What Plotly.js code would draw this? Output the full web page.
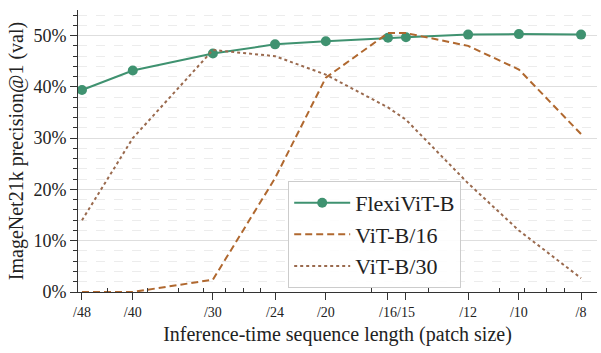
<!DOCTYPE html>
<html>
<head>
<meta charset="utf-8">
<script src="https://cdn.plot.ly/plotly-3.0.1.min.js"></script>
<style>html,body{margin:0;padding:0;background:#fff;}#chart{width:601px;height:353px;}</style>
</head>
<body>
<div id="chart"></div>
<script>
const patchSizes = [48, 40, 30, 24, 20, 16, 15, 12, 10, 8];
const tickLabels = ['/48', '/40', '/30', '/24', '/20', '/16', '/15', '/12', '/10', '/8'];
const imageSize = 240;
const flexivit = [39.4, 43.2, 46.5, 48.3, 48.9, 49.6, 49.7, 50.2, 50.3, 50.2];
const vitB16 = [0.0, 0.0, 2.4, 22.2, 41.8, 50.5, 50.5, 48.0, 43.4, 30.8];
const vitB30 = [14.0, 30.0, 47.2, 46.0, 42.4, 36.0, 33.6, 21.2, 12.0, 2.7];
const yTicks = [0, 10, 20, 30, 40, 50];
const yTickLabels = ['0%', '10%', '20%', '30%', '40%', '50%'];
const minorSeqTicks = [30, 40, 50, 60, 70, 80, 90, 200, 300, 500, 600, 700, 800];

const seqLen = patchSizes.map(p => Math.pow(imageSize / p, 2));
const font = 'Liberation Serif';

const traces = [
  {x: seqLen, y: flexivit, name: 'FlexiViT-B', mode: 'lines+markers',
   line: {color: '#3f9270', width: 2}, marker: {color: '#3f9270', size: 10}},
  {x: seqLen, y: vitB16, name: 'ViT-B/16', mode: 'lines',
   line: {color: '#b0682f', width: 2, dash: '7px,4px'}},
  {x: seqLen, y: vitB30, name: 'ViT-B/30', mode: 'lines',
   line: {color: '#9a6a4e', width: 2, dash: 'dot'}}
];

const layout = {
  width: 601, height: 353,
  margin: {l: 78, r: 4, t: 10, b: 61},
  paper_bgcolor: '#fff', plot_bgcolor: '#fff',
  font: {family: font, color: '#222', size: 16},
  showlegend: true,
  legend: {x: 0.405, y: 0.394, xanchor: 'left', yanchor: 'top',
           bgcolor: 'rgba(255,255,255,0.9)', bordercolor: '#cccccc', borderwidth: 1,
           itemwidth: 56,
           font: {family: font, size: 22, color: '#222'}, tracegroupgap: 0},
  xaxis: {
    type: 'log', range: [1.3855, 3.004],
    tickmode: 'array', tickvals: seqLen, ticktext: tickLabels, tickangle: 0,
    ticks: 'outside', ticklen: 7, tickwidth: 1, tickcolor: '#333',
    showline: true, linecolor: '#333', linewidth: 1,
    showgrid: false, zeroline: false,
    tickfont: {family: font, size: 14, color: '#222'},
    title: {text: 'Inference-time sequence length (patch size)', font: {family: font, size: 20, color: '#222'}, standoff: 8},
    minor: {tickmode: 'array', tickvals: minorSeqTicks, ticks: 'inside', ticklen: 4, tickcolor: '#333', showgrid: false}
  },
  yaxis: {
    range: [0, 55], tickmode: 'array', tickvals: yTicks, ticktext: yTickLabels,
    ticks: 'outside', ticklen: 7, tickwidth: 1, tickcolor: '#333',
    showline: true, linecolor: '#333', linewidth: 1,
    showgrid: true, gridcolor: '#dedede', gridwidth: 1, zeroline: false,
    tickfont: {family: font, size: 18, color: '#222'},
    title: {text: 'ImageNet21k precision@1 (val)', font: {family: font, size: 20, color: '#222'}, standoff: 4},
    minor: {dtick: 2, tick0: 0, ticks: 'outside', ticklen: 4, tickcolor: '#333',
            showgrid: true, gridcolor: '#ececec', griddash: 'dash', gridwidth: 1}
  }
};

Plotly.newPlot('chart', traces, layout, {displayModeBar: false, staticPlot: true});
</script>
</body>
</html>
